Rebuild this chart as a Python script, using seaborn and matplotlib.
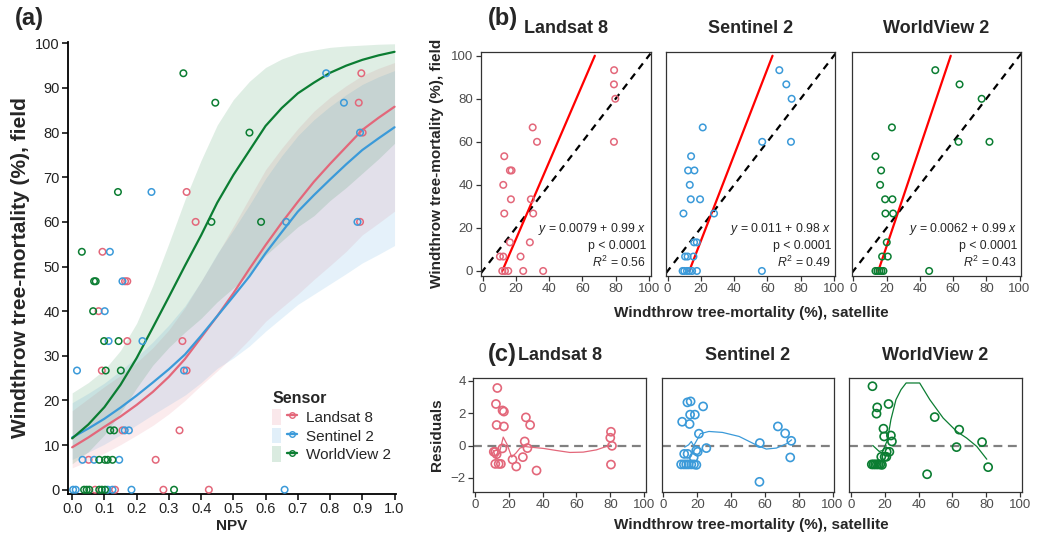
import numpy as np
import pandas as pd
import matplotlib
matplotlib.use("Agg")
import matplotlib.pyplot as plt
import seaborn as sns
from matplotlib.lines import Line2D
from matplotlib.patches import Patch
from matplotlib.legend_handler import HandlerTuple

sns.set_theme(style="ticks")
plt.rcParams['font.family'] = ['Liberation Sans', 'DejaVu Sans']
plt.rcParams['mathtext.fontset'] = 'custom'
plt.rcParams['mathtext.rm'] = 'Liberation Sans'
plt.rcParams['mathtext.it'] = 'Liberation Sans:italic'

sensors = ["Landsat 8", "Sentinel 2", "WorldView 2"]
colors = {"Landsat 8": "#E3677A", "Sentinel 2": "#3B9AD9", "WorldView 2": "#0B7D32"}

# ---------------- panel (a) data ----------------
npv_a = {
    "Landsat 8": [0.897, 0.889, 0.901, 0.893, 0.383, 0.355, 0.094, 0.164, 0.171, 0.082, 0.171, 0.342,
                  0.092, 0.355, 0.156, 0.333, 0.051, 0.259, 0.071, 0.133, 0.283, 0.424],
    "Sentinel 2": [0.788, 0.843, 0.893, 0.664, 0.885, 0.246, 0.117, 0.156, 0.101, 0.113, 0.218, 0.015,
                   0.347, 0.163, 0.176, 0.032, 0.068, 0.146, 0.003, 0.011, 0.110, 0.125, 0.184, 0.659],
    "WorldView 2": [0.345, 0.444, 0.550, 0.432, 0.586, 0.142, 0.030, 0.068, 0.073, 0.065, 0.099, 0.144,
                    0.104, 0.151, 0.118, 0.130, 0.084, 0.102, 0.110, 0.125, 0.037, 0.045, 0.053, 0.084,
                    0.092, 0.102, 0.316],
}
field_a = {
    "Landsat 8": [93.3, 86.7, 80, 60, 60, 66.7, 53.3, 46.7, 46.7, 40, 33.3, 33.3,
                  26.7, 26.7, 13.3, 13.3, 6.7, 6.7, 0, 0, 0, 0],
    "Sentinel 2": [93.3, 86.7, 80, 60, 60, 66.7, 53.3, 46.7, 40, 33.3, 33.3, 26.7,
                   26.7, 13.3, 13.3, 6.7, 6.7, 6.7, 0, 0, 0, 0, 0, 0],
    "WorldView 2": [93.3, 86.7, 80, 60, 60, 66.7, 53.3, 46.7, 46.7, 40, 33.3, 33.3,
                    26.7, 26.7, 13.3, 13.3, 6.7, 6.7, 6.7, 6.7, 0, 0, 0, 0,
                    0, 0, 0],
}
npv_grid = [0.0, 0.05, 0.1, 0.15, 0.2, 0.25, 0.3, 0.35, 0.4, 0.45, 0.5,
            0.55, 0.6, 0.65, 0.7, 0.75, 0.8, 0.85, 0.9, 0.95, 1.0]
fit_a = {
    "Landsat 8": [9.5, 11.7, 14.1, 16.4, 19.0, 21.9, 25.3, 29.3, 34.1, 38.9, 44.0,
                  49.5, 54.8, 59.8, 64.5, 69.0, 73.0, 76.8, 80.6, 83.3, 85.8],
    "Sentinel 2": [11.7, 13.7, 15.9, 18.4, 21.1, 24.0, 27.0, 30.3, 34.5, 38.9, 43.3,
                   47.8, 53.0, 57.7, 62.3, 66.0, 69.5, 72.9, 76.1, 78.7, 81.2],
    "WorldView 2": [11.5, 14.6, 18.5, 23.5, 29.5, 36.3, 43.2, 50.2, 57.0, 64.3, 70.5,
                    76.0, 81.5, 85.5, 88.8, 91.2, 93.4, 95.0, 96.3, 97.3, 98.1],
}
lo_a = {
    "Landsat 8": [4.9, 6.4, 8.2, 10.1, 12.2, 14.4, 17.0, 20.0, 23.4, 26.6, 30.0,
                  33.7, 37.7, 40.8, 43.8, 47.1, 50.2, 53.4, 57.1, 59.7, 62.4],
    "Sentinel 2": [6.8, 8.4, 10.2, 12.3, 14.5, 16.8, 19.0, 21.2, 24.0, 27.2, 29.5,
                   32.2, 35.5, 38.5, 41.5, 43.8, 46.1, 48.4, 50.8, 52.7, 54.7],
    "WorldView 2": [5.8, 8.5, 12.3, 17.2, 22.8, 27.9, 31.9, 35.3, 38.4, 42.1, 45.2,
                    48.3, 52.5, 55.7, 58.9, 61.4, 64.8, 67.7, 70.9, 74.1, 77.6],
}
hi_a = {
    "Landsat 8": [17.7, 20.4, 23.1, 25.6, 28.5, 31.8, 35.8, 40.8, 46.7, 52.7, 59.0,
                  65.4, 71.7, 76.5, 80.9, 84.8, 87.9, 90.5, 92.8, 94.4, 95.7],
    "Sentinel 2": [19.5, 21.6, 23.9, 26.7, 29.7, 33.1, 36.9, 41.2, 46.7, 52.9, 58.2,
                   63.8, 69.7, 74.8, 79.3, 82.9, 85.9, 88.5, 90.8, 92.5, 93.9],
    "WorldView 2": [21.7, 24.0, 26.9, 31.2, 37.3, 45.7, 55.2, 65.0, 73.8, 81.7, 87.4,
                    91.5, 94.6, 96.5, 97.8, 98.5, 99.1, 99.4, 99.6, 99.8, 99.9],
}

# ---------------- panel (b) data ----------------
sat_b = {
    "Landsat 8": [79.1, 79.0, 79.8, 79.0, 30.1, 32.7, 13.0, 16.4, 17.4, 12.4, 17.0, 29.0,
                  13.0, 30.4, 16.4, 28.4, 10.4, 12.4, 22.8, 11.8, 13.4, 15.4, 24.4, 36.4],
    "Sentinel 2": [67.2, 71.4, 74.6, 56.9, 74.2, 21.1, 14.1, 12.3, 16.1, 13.3, 13.9, 19.5,
                   9.5, 27.9, 15.9, 17.5, 10.5, 12.0, 15.5, 9.0, 10.0, 11.6, 13.0, 14.7, 17.6, 56.7],
    "WorldView 2": [49.3, 63.9, 77.2, 63.3, 81.9, 23.2, 13.3, 16.7, 16.1, 19.1, 23.5,
                    19.3, 23.9, 20.1, 17.3, 20.7, 13.3, 14.5, 15.7, 16.9, 18.1, 45.6],
}
field_b = {
    "Landsat 8": [93.3, 86.7, 80, 60, 66.7, 60, 53.3, 46.7, 46.7, 40, 33.3, 33.3,
                  26.7, 26.7, 13.3, 13.3, 6.7, 6.7, 6.7, 0, 0, 0, 0, 0],
    "Sentinel 2": [93.3, 86.7, 80, 60, 60, 66.7, 53.3, 46.7, 46.7, 40, 33.3, 33.3,
                   26.7, 26.7, 13.3, 13.3, 6.7, 6.7, 6.7, 0, 0, 0, 0, 0, 0, 0],
    "WorldView 2": [93.3, 86.7, 80, 60, 60, 66.7, 53.3, 46.7, 40, 33.3, 33.3,
                    26.7, 26.7, 13.3, 6.7, 6.7, 0, 0, 0, 0, 0, 0],
}
fit_line_x = {"Landsat 8": [11.8, 67.5], "Sentinel 2": [13.0, 63.1], "WorldView 2": [15.0, 58.6]}
fit_line_y = [0, 100]
eq_text = {"Landsat 8": "0.0079 + 0.99", "Sentinel 2": "0.011 + 0.98", "WorldView 2": "0.0062 + 0.99"}
p_text = {"Landsat 8": "p < 0.0001", "Sentinel 2": "p < 0.0001", "WorldView 2": "p < 0.0001"}
r2_text = {"Landsat 8": "0.56", "Sentinel 2": "0.49", "WorldView 2": "0.43"}

# ---------------- panel (c) data ----------------
sat_c = {
    "Landsat 8": [13.2, 12.4, 16.3, 17.1, 12.8, 17.1, 30.1, 32.6, 29.4, 31.0, 16.2, 11.1, 12.0,
                  12.8, 12.0, 14.0, 15.3, 22.2, 24.4, 28.3, 36.4, 80.4, 80.0, 81.0, 80.4],
    "Sentinel 2": [14.2, 16.1, 23.5, 15.8, 18.6, 11.1, 15.5, 21.0, 67.7, 72.0, 75.6, 57.0, 25.4,
                   19.4, 20.3, 12.3, 14.3, 17.9, 75.0, 10.5, 12.1, 13.5, 14.9, 16.5, 18.1, 19.5, 56.8],
    "WorldView 2": [12.7, 15.5, 15.1, 22.2, 49.5, 64.0, 19.2, 19.6, 23.6, 24.2, 77.5, 62.4, 21.1,
                    22.7, 17.9, 19.9, 20.9, 12.3, 13.3, 14.3, 15.3, 16.3, 17.3, 18.3, 45.0, 81.1],
}
resid_c = {
    "Landsat 8": [3.56, 2.57, 2.17, 2.10, 1.27, 1.18, 1.74, 1.27, 0.25, -0.16, -0.18, -0.39, -0.39,
                  -0.54, -1.14, -1.14, -1.14, -0.87, -1.30, -0.72, -1.55, 0.85, 0.48, -0.02, -1.18],
    "Sentinel 2": [2.67, 2.73, 2.42, 1.91, 1.91, 1.47, 1.33, 0.73, 1.18, 0.75, 0.29, 0.15, -0.16,
                   -0.31, -0.39, -0.52, -0.52, -0.74, -0.74, -1.17, -1.17, -1.17, -1.17, -1.17, -1.17,
                   -1.20, -2.25],
    "WorldView 2": [3.67, 2.36, 1.97, 2.57, 1.76, 0.98, 1.04, 0.56, 0.62, 0.25, 0.21, -0.10, -0.39,
                    -0.39, -0.70, -0.70, -0.70, -1.17, -1.17, -1.17, -1.17, -1.17, -1.17, -1.20,
                    -1.78, -1.34],
}
smooth_x = {
    "Landsat 8": [10.8, 12.4, 14.4, 16.7, 19.1, 21.7, 24.2, 26.6, 29.5, 32.5, 40.4, 48.2, 56.1,
                  64.0, 71.8, 77.7, 80.1],
    "Sentinel 2": [12.6, 14.9, 16.5, 17.9, 19.9, 21.9, 26.9, 34.9, 44.8, 54.8, 60.8, 66.8, 72.8, 75.8],
    "WorldView 2": [12.9, 16.7, 19.0, 21.6, 23.6, 26.6, 29.6, 32.6, 40.6, 46.6, 54.5, 62.5, 68.4,
                    74.4, 80.3],
}
smooth_y = {
    "Landsat 8": [-0.31, -0.78, -0.47, 0.52, 0.04, -0.72, -0.47, -0.16, -0.06, -0.10, -0.18, -0.31,
                  -0.43, -0.41, -0.27, -0.06, 0.04],
    "Sentinel 2": [-0.10, 0.04, 0.25, -0.02, 0.35, 0.73, 0.87, 0.81, 0.56, 0.04, -0.22, -0.16, 0.11, 0.35],
    "WorldView 2": [0.00, -0.37, -0.30, 0.35, 1.60, 2.84, 3.46, 3.87, 3.87, 2.84, 1.70, 0.87, 0.46,
                    -0.06, -0.85],
}

W, H = 1038, 538
fig = plt.figure(figsize=(W / 100, H / 100), dpi=100)
fx = lambda px: px / W
fy = lambda py: 1 - py / H

TICK_A = 10.5
TICK_BC = 9.5
LAB = 11

# ---------------- panel (a) ----------------
axA = fig.add_axes([fx(68.3), fy(494), fx(395.5) - fx(68.3), fy(42) - fy(494)])
for s in sensors:
    axA.fill_between(npv_grid, lo_a[s], hi_a[s], color=colors[s], alpha=0.13, lw=0)
for s in sensors:
    sns.lineplot(x=npv_grid, y=fit_a[s], ax=axA, color=colors[s], linewidth=1.6)
for s in sensors:
    sns.scatterplot(x=npv_a[s], y=field_a[s], ax=axA, color=colors[s], facecolor="none",
                    edgecolor=colors[s], s=22, linewidth=1.1, zorder=3)
axA.set_xlim(-0.012, 1.003)
axA.set_ylim(-0.96, 100.3)
axA.set_xticks([0, 0.1, 0.2, 0.3, 0.4, 0.5, 0.6, 0.7, 0.8, 0.9, 1.0])
axA.set_xticklabels(["0.0", "0.1", "0.2", "0.3", "0.4", "0.5", "0.6", "0.7", "0.8", "0.9", "1.0"])
axA.set_yticks(range(0, 101, 10))
for sp in ["top", "right"]:
    axA.spines[sp].set_visible(False)
for sp in ["left", "bottom"]:
    axA.spines[sp].set_linewidth(1.3)
    axA.spines[sp].set_color("black")
axA.tick_params(length=4, width=1.1, color="black", labelsize=TICK_A, labelcolor="#222222", pad=2)
axA.set_xlabel("NPV", fontsize=LAB, fontweight="bold", labelpad=2)
axA.set_ylabel("Windthrow tree-mortality (%), field", fontsize=15, fontweight="bold", labelpad=4)

handles = [(Patch(facecolor=colors[s], alpha=0.15, edgecolor="none"),
            Line2D([], [], color=colors[s], lw=1.7, marker="o", mfc="none", mec=colors[s], ms=4, mew=1))
           for s in sensors]
leg = fig.legend(handles, sensors, handler_map={tuple: HandlerTuple(ndivide=None)},
                 loc="upper left", bbox_to_anchor=(fx(266), fy(385)), frameon=False,
                 title="Sensor", fontsize=11, title_fontproperties={"weight": "bold", "size": 11.5},
                 handlelength=1.6, handleheight=1.2, labelspacing=0.18, handletextpad=0.6,
                 borderaxespad=0)
leg._legend_box.align = "left"

fig.text(fx(29), fy(19), "(a)", fontsize=17, fontweight="bold", ha="center", va="center")
fig.text(fx(503), fy(18), "(b)", fontsize=17, fontweight="bold", ha="center", va="center")
fig.text(fx(502), fy(354), "(c)", fontsize=17, fontweight="bold", ha="center", va="center")


def style_box(ax):
    for sp in ax.spines.values():
        sp.set_visible(True)
        sp.set_color("#333333")
        sp.set_linewidth(0.9)
    ax.tick_params(length=3.5, width=0.9, color="#333333", labelsize=TICK_BC, labelcolor="#4D4D4D", pad=2)
    ax.set_xlabel("")
    ax.set_ylabel("")


# ---------------- panel (b) ----------------
b_lefts = [481, 666, 851.7]
for i, s in enumerate(sensors):
    ax = fig.add_axes([fx(b_lefts[i]), fy(275.7), fx(169.5), fy(52.3) - fy(275.7)])
    ax.plot([-1, 101], [-1, 101], color="black", lw=1.6, ls=(0, (3.2, 2.6)))
    sns.lineplot(x=fit_line_x[s], y=fit_line_y, ax=ax, color="red", linewidth=1.6)
    sns.scatterplot(x=sat_b[s], y=field_b[s], ax=ax, color=colors[s], facecolor="none",
                    edgecolor=colors[s], s=22, linewidth=1.1, zorder=3)
    ax.set_xlim(-1, 101)
    ax.set_ylim(-2.2, 101.6)
    ax.set_xticks(range(0, 101, 20))
    ax.set_yticks(range(0, 101, 20))
    style_box(ax)
    if i > 0:
        ax.set_yticklabels([])
        ax.tick_params(axis="y", length=0)
    ax.text(98.5, 19.5, r"$\it{y}$ = " + eq_text[s] + r" $\it{x}$", ha="right", va="center", fontsize=8.8)
    ax.text(98.5, 11.6, p_text[s], ha="right", va="center", fontsize=8.8)
    ax.text(98.5, 4.0, r"$\it{R}^2$ = " + r2_text[s], ha="right", va="center", fontsize=8.8)
    ax.set_title(s, fontsize=13, fontweight="bold", pad=14)

fig.text(fx(751), fy(313), "Windthrow tree-mortality (%), satellite", fontsize=LAB, fontweight="bold",
         ha="center", va="center")
fig.text(fx(437), fy(163), "Windthrow tree-mortality (%), field", fontsize=11, fontweight="bold",
         ha="center", va="center", rotation=90)

# ---------------- panel (c) ----------------
c_lefts = [473.3, 661.7, 849.3]
for i, s in enumerate(sensors):
    ax = fig.add_axes([fx(c_lefts[i]), fy(491.7), fx(172.5), fy(378.3) - fy(491.7)])
    ax.axhline(0, color="#808080", lw=1.6, ls=(0, (4, 2.5)))
    sns.lineplot(x=smooth_x[s], y=smooth_y[s], ax=ax, color=colors[s], linewidth=0.9, sort=False)
    sns.scatterplot(x=sat_c[s], y=resid_c[s], ax=ax, color=colors[s], facecolor="none",
                    edgecolor=colors[s], s=34, linewidth=1.2, zorder=3)
    ax.set_xlim(-1, 101)
    ax.set_ylim(-2.86, 4.16)
    ax.set_xticks(range(0, 101, 20))
    ax.set_yticks([-2, 0, 2, 4])
    style_box(ax)
    if i > 0:
        ax.set_yticklabels([])
        ax.tick_params(axis="y", length=0)
    ax.set_title(s, fontsize=13, fontweight="bold", pad=13)

fig.text(fx(751), fy(525), "Windthrow tree-mortality (%), satellite", fontsize=LAB, fontweight="bold",
         ha="center", va="center")
fig.text(fx(437), fy(435), "Residuals", fontsize=11, fontweight="bold",
         ha="center", va="center", rotation=90)

fig.savefig("out.png", dpi=100)
